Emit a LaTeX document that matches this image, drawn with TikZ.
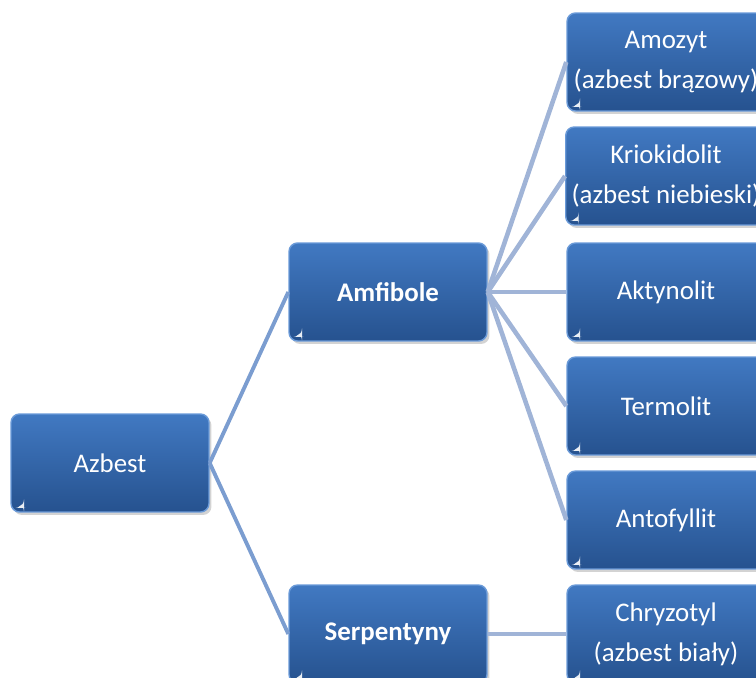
\documentclass[tikz,border=0pt]{standalone}
\usepackage{fontspec}
\setmainfont{Carlito}
\usepackage{xcolor}
\usetikzlibrary{shadows}

\definecolor{boxtop}{HTML}{4179C2}
\definecolor{boxbot}{HTML}{26528F}
\definecolor{boxrim}{HTML}{6A9AD8}
\definecolor{linkleft}{HTML}{7B9DD0}
\definecolor{linkright}{HTML}{A0B4D7}

\begin{document}
\begin{tikzpicture}[x=0.02cm,y=-0.02cm,
		box/.style={rounded corners=0.17cm, minimum width=3.96cm, minimum height=1.96cm,
			top color=boxtop, bottom color=boxbot, draw=boxrim, line width=0.8pt,
			text=white, align=center, font=\fontsize{15.3}{22.7}\selectfont,
			drop shadow={opacity=0.35, shadow xshift=0.05cm, shadow yshift=-0.06cm},
			path picture={\fill[white,opacity=0.9] ([xshift=0.12cm,yshift=0.08cm]path picture bounding box.south west) -- ++(0.14cm,0) -- ++(0,0.1cm) -- cycle;}},
		linka/.style={draw=linkleft, line width=2.2pt},
		linkb/.style={draw=linkright, line width=2.6pt}]
		\clip (0,0) rectangle (756,678);
		% first level
		\node[box] (azbest) at (110,463) {Azbest};
		% second level
		\node[box,font=\fontsize{15.3}{22.7}\selectfont\bfseries] (amfibole) at (388,292) {Amfibole};
		\node[box,font=\fontsize{15.3}{22.7}\selectfont\bfseries] (serpentyny) at (388,634) {Serpentyny};
		% third level
		\node[box] (amozyt) at (666,62) {Amozyt\\(azbest brązowy)};
		\node[box] (kriokidolit) at (666,176) {Kriokidolit\\(azbest niebieski)};
		\node[box] (aktynolit) at (666,292) {Aktynolit};
		\node[box] (termolit) at (666,406) {Termolit};
		\node[box] (antofyllit) at (666,520) {Antofyllit};
		\node[box] (chryzotyl) at (666,634) {Chryzotyl\\(azbest biały)};
		% connectors
		\draw[linka] (azbest.east) -- (amfibole.west);
		\draw[linka] (azbest.east) -- (serpentyny.west);
		\draw[linkb] (amfibole.east) -- (amozyt.west);
		\draw[linkb] (amfibole.east) -- (kriokidolit.west);
		\draw[linkb] (amfibole.east) -- (aktynolit.west);
		\draw[linkb] (amfibole.east) -- (termolit.west);
		\draw[linkb] (amfibole.east) -- (antofyllit.west);
		\draw[linkb] (serpentyny.east) -- (chryzotyl.west);
	\end{tikzpicture}
\end{document}
